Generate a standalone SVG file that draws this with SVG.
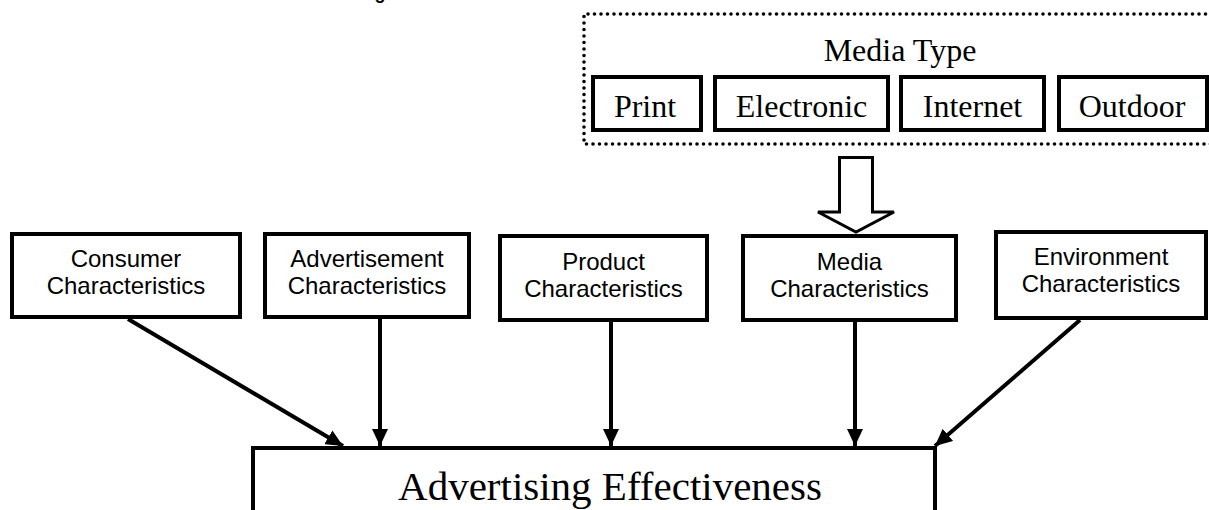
<svg xmlns="http://www.w3.org/2000/svg" width="1209" height="510" viewBox="0 0 1209 510">
<defs>
<marker id="ah" markerUnits="userSpaceOnUse" markerWidth="18" markerHeight="16" refX="17" refY="8" orient="auto"><path d="M0,0 L17,8 L0,16 Z" fill="#000"/></marker>
</defs>
<style>
.box{fill:#fff;stroke:#000;stroke-width:4}
.mbox{fill:#fff;stroke:#000;stroke-width:4}
.sans{font-family:"Liberation Sans",Arial,sans-serif;font-size:24px;fill:#000;text-anchor:middle}
.serif{font-family:"Liberation Serif","Times New Roman",serif;fill:#000;text-anchor:middle}
.conn{stroke:#000;stroke-width:4;fill:none;marker-end:url(#ah)}
.dots{fill:none;stroke:#000;stroke-width:3.6;stroke-linecap:round;stroke-dasharray:0 6.5}
</style>
<rect width="1209" height="510" fill="#fff"/>
<text x="380" y="-1" style="font-family:'Liberation Sans',Arial,sans-serif;font-size:18px;font-weight:bold" text-anchor="middle">g</text>

<g id="media-type">
<path class="dots" d="M1212,14 L584,14 L584,144 L1212,144"/>
<text class="serif" x="900" y="61" font-size="32">Media Type</text>
<g id="print"><rect class="mbox" x="593" y="77" width="108" height="53"/><text class="serif" x="645" y="117" font-size="32">Print</text></g>
<g id="electronic"><rect class="mbox" x="715" y="77" width="173" height="53"/><text class="serif" x="801.5" y="117" font-size="32">Electronic</text></g>
<g id="internet"><rect class="mbox" x="901" y="77" width="143" height="53"/><text class="serif" x="972.5" y="117" font-size="32">Internet</text></g>
<g id="outdoor"><rect class="mbox" x="1059" y="77" width="148" height="53"/><text class="serif" x="1132" y="117" font-size="32">Outdoor</text></g>
</g>

<g id="media-arrow">
<path d="M839.5,157.5 L872.5,157.5 L872.5,212 L894,212 L856,232 L818,212 L839.5,212 Z" fill="#fff" stroke="#000" stroke-width="3" stroke-linejoin="miter"/>
</g>

<g id="consumer"><rect class="box" x="12" y="234" width="228" height="83"/><text class="sans" x="126" y="267">Consumer</text><text class="sans" x="126" y="294">Characteristics</text></g>
<g id="advertisement"><rect class="box" x="265" y="234" width="204" height="83"/><text class="sans" x="367" y="267">Advertisement</text><text class="sans" x="367" y="294">Characteristics</text></g>
<g id="product"><rect class="box" x="500" y="236" width="207" height="84"/><text class="sans" x="603.5" y="270">Product</text><text class="sans" x="603.5" y="297">Characteristics</text></g>
<g id="media"><rect class="box" x="743" y="236" width="213" height="84"/><text class="sans" x="849.5" y="270">Media</text><text class="sans" x="849.5" y="297">Characteristics</text></g>
<g id="environment"><rect class="box" x="996" y="232" width="210" height="86"/><text class="sans" x="1101" y="265">Environment</text><text class="sans" x="1101" y="292">Characteristics</text></g>

<g id="effectiveness"><rect class="box" x="253" y="448" width="682" height="80"/><text class="serif" x="610" y="500" font-size="41">Advertising Effectiveness</text></g>

<g id="connectors">
<line class="conn" x1="128" y1="319" x2="343" y2="446"/>
<line class="conn" x1="380" y1="319" x2="380" y2="446"/>
<line class="conn" x1="611" y1="322" x2="611" y2="446"/>
<line class="conn" x1="855" y1="322" x2="855" y2="446"/>
<line class="conn" x1="1080" y1="320" x2="935" y2="446"/>
</g>
</svg>
